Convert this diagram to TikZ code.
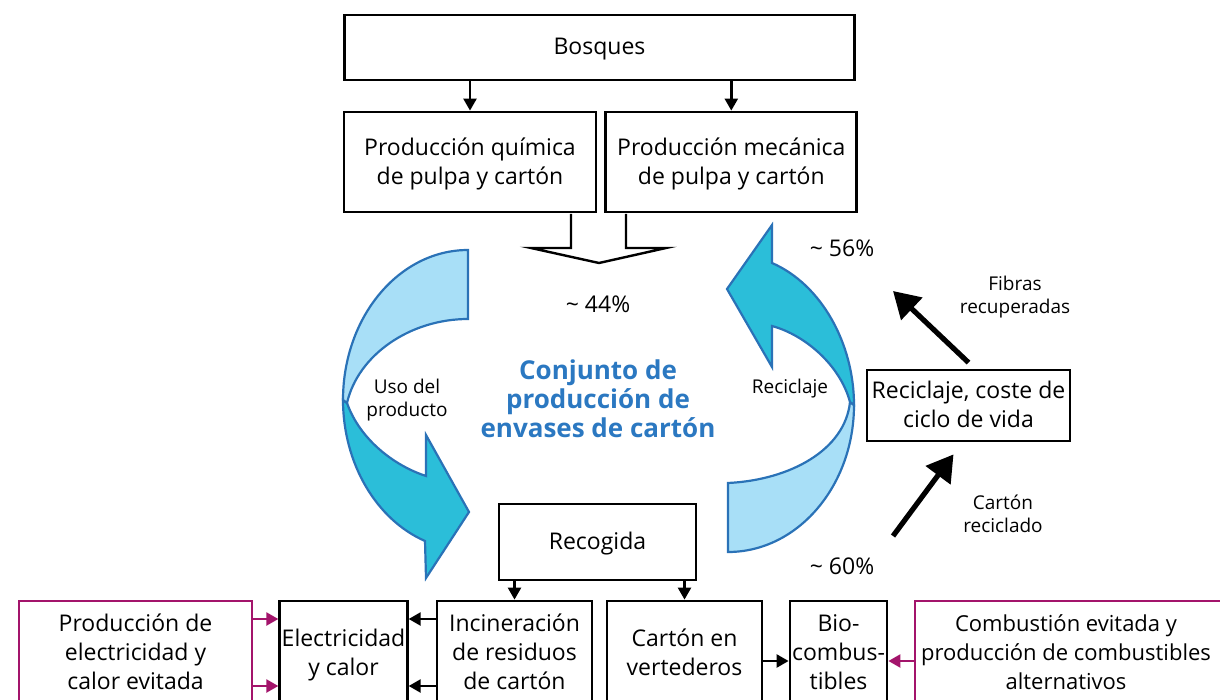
\documentclass[tikz,border=0pt]{standalone}
\usepackage{fontspec}
\setmainfont{Open Sans}
\usetikzlibrary{arrows.meta, positioning}

\definecolor{backcyan}{HTML}{A8DFF7}
\definecolor{frontcyan}{HTML}{2BBED9}
\definecolor{ribbonblue}{HTML}{2A72B7}
\definecolor{titleblue}{HTML}{2B78C1}
\definecolor{avoided}{HTML}{A3146B}

\tikzstyle{box} = [rectangle, 
draw=black, 
line width=1.4pt, 
align=center, 
inner sep=1pt, 
text depth=1pt,
font=\fontsize{11.5}{14.5}\selectfont]
\tikzstyle{avoidbox} = [box, draw=avoided]
\tikzstyle{arrow} = [line width=1.2pt, -{Triangle[length=6pt,width=6.5pt]}]
\tikzstyle{avoidarrow} = [arrow, draw=avoided, fill=avoided]
\tikzstyle{bigarrow} = [line width=2.6pt, -{Triangle[length=13pt,width=15pt]}]
\tikzstyle{ribbon} = [draw=ribbonblue, line width=1.1pt, line join=miter]
\tikzstyle{note} = [align=center, font=\fontsize{9.5}{11.5}\selectfont]
\tikzstyle{pct} = [font=\fontsize{11.5}{13}\selectfont]

\begin{document}
\begin{tikzpicture}[x=0.5pt, y=-0.5pt]
\clip (0,0) rectangle (1220,700);

% boxes on top
\node (bosques) [box, minimum width=255pt, minimum height=32.5pt] at (599.5,47.5) {Bosques};
\node (quimica) [box, minimum width=126pt, minimum height=50pt] at (470,162) {Producci\'on qu\'imica\\de pulpa y cart\'on};
\node (mecanica) [box, minimum width=125.5pt, minimum height=50pt, right=3.5pt of quimica] {Producci\'on mec\'anica\\de pulpa y cart\'on};

% middle
\node (recogida) [box, minimum width=98.5pt, minimum height=38pt] at (597.5,542) {Recogida};
\node (rcb) [box, minimum width=101.5pt, minimum height=35.5pt] at (968.5,405.5) {Reciclaje, coste de\\ciclo de vida};

\node (conjunto) [align=center, text=titleblue, font=\fontsize{13}{14.5}\selectfont\bfseries] at (598,399) {Conjunto de\\producci\'on de\\envases de cart\'on};
\node (p44) [pct] at (598,304) {\textasciitilde{} 44\%};
\node (p56) [pct] at (842,248) {\textasciitilde{} 56\%};
\node (p60) [pct] at (842,566) {\textasciitilde{} 60\%};
\node (uso) [note] at (407,400) {Uso del\\producto};
\node (recl) [note] at (790,389) {Reciclaje};
\node (fibras) [note] at (1015,297) {Fibras\\recuperadas};
\node (cartonrec) [note] at (1003,514) {Cart\'on\\reciclado};

% bottom row (cut off by the frame)
\node (evitada) [avoidbox, minimum width=116.5pt, minimum height=52pt] at (135.5,653) {Producci\'on de\\electricidad y\\calor evitada};
\node (elec) [box, minimum width=62.5pt, minimum height=52pt] at (343.5,653) {Electricidad\\y calor};
\node (incin) [box, minimum width=77.5pt, minimum height=52pt] at (514.5,653) {Incineraci\'on\\de residuos\\de cart\'on};
\node (vert) [box, minimum width=77.5pt, minimum height=52pt] at (684.5,653) {Cart\'on en\\vertederos};
\node (bio) [box, minimum width=48.5pt, minimum height=52pt] at (838.5,653) {Bio-\\combus-\\tibles};
\node (comb) [avoidbox, minimum width=157pt, minimum height=52pt, font=\fontsize{11}{14.5}\selectfont] at (1072,653) {};
\node (combtext) [align=center, font=\fontsize{11}{14.5}\selectfont] at (1066,652) {Combusti\'on evitada y\\producci\'on de combustibles\\alternativos};

\draw [arrow] (quimica.north |- bosques.south) -- (quimica.north);
\draw [arrow] (mecanica.north |- bosques.south) -- (mecanica.north);
\draw [arrow] (incin.north |- recogida.south) -- (incin.north);
\draw [arrow] (vert.north |- recogida.south) -- (vert.north);
\draw [arrow] ([yshift=17pt]incin.west) -- ([yshift=17pt]elec.east);
\draw [arrow] ([yshift=-16.5pt]incin.west) -- ([yshift=-16.5pt]elec.east);
\draw [avoidarrow] ([yshift=17pt]evitada.east) -- ([yshift=17pt]elec.west);
\draw [avoidarrow] ([yshift=-16.5pt]evitada.east) -- ([yshift=-16.5pt]elec.west);
\draw [arrow] ([yshift=-4pt]vert.east) -- ([yshift=-4pt]bio.east -| bio.west);
\draw [avoidarrow] ([yshift=-4pt]comb.west) -- ([yshift=-4pt]bio.east);

\coordinate (fibtip) at (893,291);
\coordinate (cartail) at (893,536);
\draw [bigarrow] ([yshift=3pt]rcb.north) -- (fibtip);
\draw [bigarrow] (cartail) -- ([xshift=-7.5pt,yshift=-6pt]rcb.south);

% hollow arrow out of production
\draw [line width=1.2pt, fill=white] (571,214) -- (571,248) -- (531,248) -- (599,263) -- (666,248) -- (626,248) -- (626,214);

% left ribbon: uso del producto
\draw [ribbon, fill=frontcyan] (343,400) .. controls (343,463) and (376,519.5) .. (425,541)
  -- (426,578) -- (469,512) -- (426,435) -- (426,476)
  .. controls (395,466) and (360,440) .. (347,403) -- cycle;
\draw [ribbon, fill=backcyan] (468,250) .. controls (399,250) and (343,317) .. (343,400)
  -- (347,403) .. controls (358,355) and (410,319) .. (468,319) -- cycle;

% right ribbon: reciclaje
\draw [ribbon, fill=backcyan] (854,405) .. controls (854,486) and (797.6,552) .. (728,552)
  -- (728,483) .. controls (790,480) and (845,450) .. (850,402) -- cycle;
\draw [ribbon, fill=frontcyan] (850,402) .. controls (840,365) and (805,335) .. (772,326)
  -- (772,367) -- (727,289) -- (772,225) -- (772,263)
  .. controls (821.3,284.4) and (854,343.6) .. (854,405) -- cycle;

\end{tikzpicture}
\end{document}
